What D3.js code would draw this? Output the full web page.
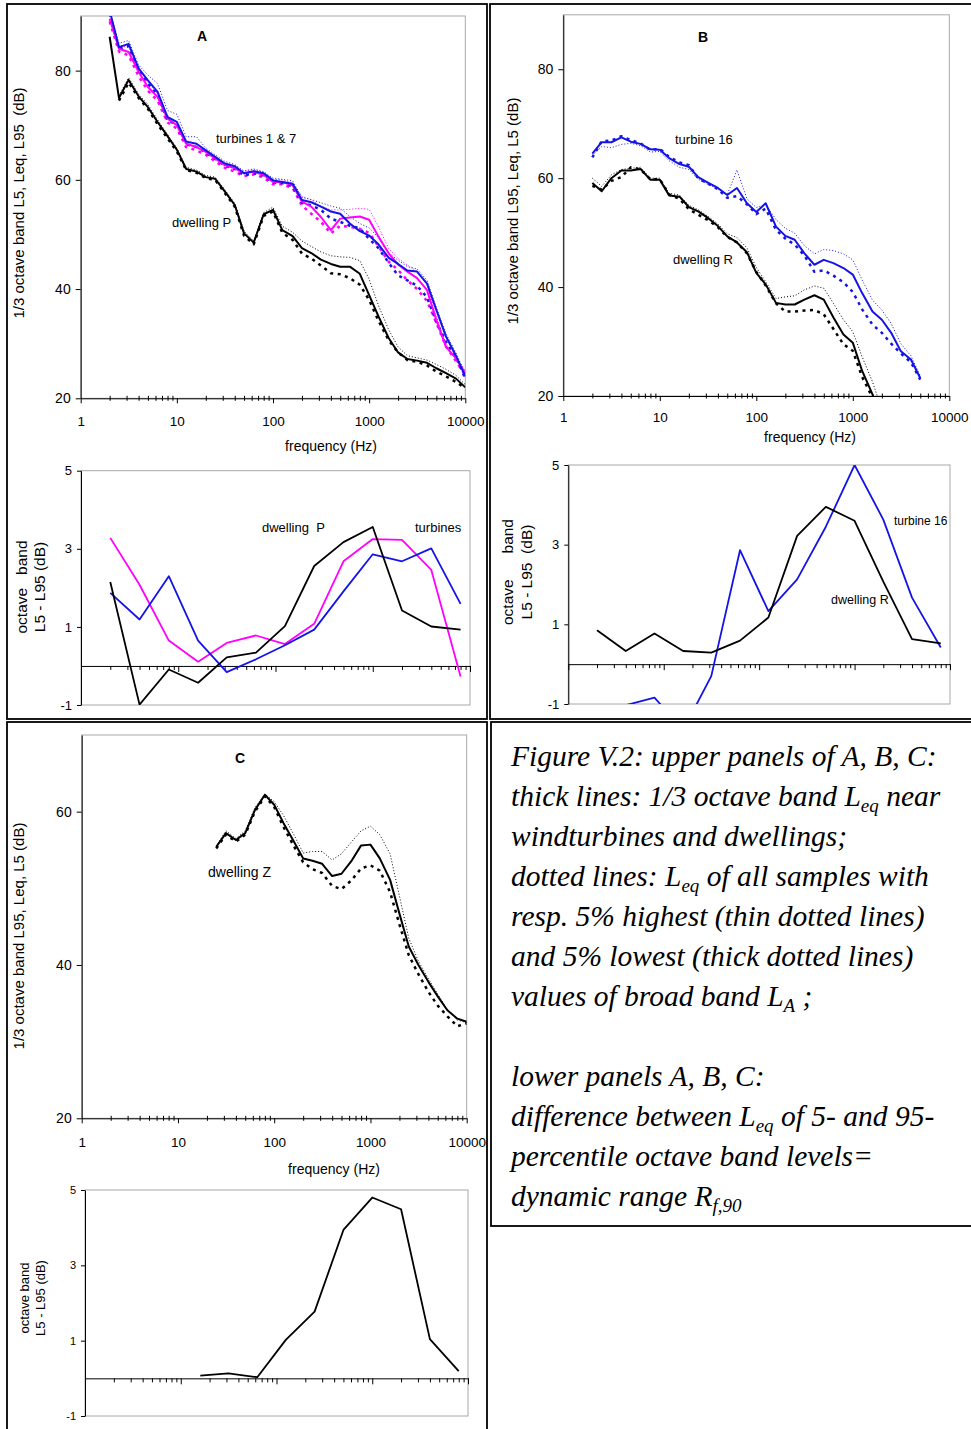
<!DOCTYPE html>
<html>
<head>
<meta charset="utf-8">
<script src="https://cdn.jsdelivr.net/npm/d3@7"></script>
<style>
  body { margin: 0; background: #fff; }
  svg text { font-family: "Liberation Sans", Arial, sans-serif; fill: #000; }
</style>
</head>
<body>
<div id="chart"></div>
<script>
// 1/3 octave band centre frequencies (Hz) and octave bands
const thirdOct = [2, 2.5, 3.15, 4, 5, 6.3, 8, 10, 12.5, 16, 20, 25, 31.5, 40, 50, 63, 80, 100, 125, 160,
    200, 250, 315, 400, 500, 630, 800, 1000, 1250, 1600, 2000, 2500, 3150, 4000, 5000, 6300, 8000, 10000]
const octBands = [2, 4, 8, 16, 31.5, 63, 125, 250, 500, 1000, 2000, 4000, 8000]
const decades = [1, 10, 100, 1000, 10000]

// panel A, upper: turbines 1 & 7 (blue, magenta), dwelling P (black)
const blackLeqA = [86.2, 75.0, 78.3, 75.3, 73.3, 70.6, 68.0, 65.5, 62.0, 61.5, 60.5, 60.2, 57.9, 55.4, 50.2, 48.5, 53.7, 54.5, 50.8, 49.7,
    47.5, 46.6, 45.4, 44.6, 44.1, 44.1, 42.8, 38.9, 35.0, 31.0, 28.4, 27.2, 26.9, 26.5, 25.5, 24.6, 23.6, 22.0]
const blackL5A = [86.4, 75.4, 78.7, 75.7, 73.8, 71.0, 68.3, 65.8, 62.3, 61.8, 60.8, 60.5, 58.2, 55.7, 50.6, 48.8, 54.0, 55.0, 51.5, 50.4,
    48.8, 47.8, 46.8, 46.1, 45.9, 45.8, 45.2, 41.8, 37.0, 32.5, 29.4, 27.8, 27.4, 27.0, 26.2, 25.3, 24.2, 22.5]
const blackL95A = [85.8, 74.5, 77.8, 75.0, 73.0, 70.2, 67.6, 65.2, 61.8, 61.3, 60.3, 60.0, 57.6, 55.1, 49.8, 48.2, 53.4, 54.2, 50.3, 49.0,
    46.5, 45.6, 44.3, 42.9, 42.7, 42.0, 40.8, 38.0, 34.2, 30.6, 28.4, 27.0, 26.7, 26.0, 24.9, 24.0, 23.0, 21.8]
const blueLeqA = [91.0, 84.3, 84.9, 80.4, 78.2, 76.1, 71.5, 70.6, 67.0, 66.6, 65.4, 64.2, 63.0, 62.5, 61.2, 61.6, 61.2, 59.9, 59.6, 59.3,
    56.3, 55.9, 55.1, 54.2, 53.8, 52.0, 50.6, 49.8, 48.2, 45.7, 44.6, 43.4, 43.2, 41.0, 36.2, 31.3, 27.8, 24.0]
const blueL5A = [91.0, 85.0, 85.5, 81.0, 79.2, 77.6, 72.7, 72.0, 67.9, 67.9, 65.8, 64.6, 63.4, 62.8, 61.6, 62.0, 61.5, 60.3, 60.1, 59.8,
    56.8, 56.4, 55.8, 55.2, 54.8, 53.3, 52.0, 51.2, 49.4, 46.6, 45.3, 44.1, 43.7, 41.6, 36.6, 31.8, 28.3, 24.4]
const blueL95A = [90.5, 84.0, 84.5, 80.0, 77.6, 75.5, 70.8, 70.2, 66.5, 66.0, 65.0, 63.8, 62.6, 62.0, 60.8, 61.2, 60.8, 59.5, 59.4, 58.8,
    55.8, 55.3, 54.5, 52.9, 52.3, 51.6, 51.1, 49.2, 47.5, 44.8, 42.5, 41.6, 40.6, 38.5, 34.0, 30.3, 27.5, 23.6]
const magLeqA = [89.5, 84.0, 83.4, 79.8, 77.0, 75.2, 71.2, 70.0, 66.6, 66.0, 65.1, 63.9, 62.7, 62.1, 61.2, 61.5, 60.9, 59.6, 59.6, 59.0,
    56.0, 55.1, 53.2, 50.8, 52.9, 53.1, 53.3, 52.7, 49.6, 46.5, 44.5, 43.2, 42.0, 39.8, 34.3, 29.4, 27.3, 24.6]
const magL5A = [90.0, 84.6, 84.2, 80.6, 77.8, 75.8, 71.8, 70.6, 67.2, 66.6, 65.5, 64.3, 63.1, 62.5, 61.6, 61.9, 61.3, 60.1, 60.0, 59.4,
    57.0, 56.3, 55.2, 54.5, 54.5, 54.6, 54.8, 54.6, 51.4, 47.4, 45.6, 44.4, 43.2, 40.8, 35.0, 30.0, 27.7, 25.0]
const magL95A = [89.0, 83.5, 82.8, 79.0, 76.3, 74.5, 70.5, 69.4, 66.0, 65.4, 64.6, 63.4, 62.2, 61.5, 60.7, 61.0, 60.4, 59.2, 59.2, 58.5,
    55.3, 53.8, 52.3, 50.2, 51.6, 51.4, 51.0, 50.3, 47.8, 45.0, 43.5, 41.6, 40.0, 37.8, 33.8, 29.5, 26.8, 24.2]

// panel B, upper: turbine 16 (blue, 2..5000 Hz), dwelling R (black, 2..2000 Hz)
const blueLeqB = [64.5, 66.6, 66.6, 67.5, 66.7, 66.3, 65.3, 65.2, 63.7, 62.6, 62.1, 60.2, 59.2, 58.2, 56.9, 58.2, 55.4, 53.8,
    55.4, 51.1, 49.4, 48.7, 46.2, 44.1, 45.0, 44.4, 43.5, 42.3, 38.9, 35.5, 34.0, 31.6, 28.2, 26.7, 23.3]
const blueL5B = [64.2, 65.8, 65.6, 66.2, 66.4, 66.0, 64.8, 64.9, 63.2, 62.0, 61.6, 59.8, 58.9, 58.0, 57.0, 61.5, 56.2, 54.6,
    55.2, 52.4, 50.8, 49.9, 47.6, 46.1, 46.9, 46.7, 46.1, 45.0, 41.3, 37.6, 35.8, 33.3, 29.6, 27.4, 23.7]
const blueL95B = [63.8, 66.8, 66.9, 67.7, 67.0, 66.4, 65.2, 65.4, 63.9, 62.9, 62.4, 60.0, 59.0, 58.0, 56.4, 56.7, 55.2, 53.4,
    54.4, 50.5, 48.9, 47.8, 45.8, 42.8, 43.1, 42.1, 40.9, 39.1, 35.9, 33.1, 31.6, 29.6, 27.8, 26.2, 23.0]
const blackLeqB = [59.1, 57.6, 60.0, 61.4, 61.4, 61.7, 59.7, 59.7, 56.8, 56.6, 54.7, 53.9, 52.7, 51.2, 49.3, 48.2, 46.4, 42.6,
    40.5, 37.1, 36.8, 36.8, 37.7, 38.5, 37.7, 34.4, 31.3, 29.8, 24.6, 20.3, 15.5]
const blackL5B = [60.0, 58.5, 60.6, 61.6, 61.8, 62.0, 60.0, 60.0, 57.2, 56.9, 55.0, 54.2, 53.0, 51.6, 49.8, 49.1, 47.2, 43.6,
    41.0, 37.9, 38.2, 38.4, 39.5, 40.2, 39.8, 37.0, 34.0, 31.8, 27.2, 22.6, 17.5]
const blackL95B = [58.6, 57.9, 59.5, 60.2, 62.0, 61.6, 59.8, 59.8, 57.0, 56.2, 54.3, 53.3, 52.3, 51.0, 49.2, 48.2, 46.2, 42.8,
    40.3, 37.0, 35.5, 35.5, 35.7, 35.8, 35.0, 32.3, 29.5, 28.3, 23.5, 19.7, 15.0]

// panel C, upper: dwelling Z (25..10000 Hz)
const leqC = [55.4, 57.2, 56.3, 57.2, 60.2, 62.2, 60.9, 58.5, 56.1, 53.9, 53.6, 53.2, 51.6, 51.9, 53.5, 55.6, 55.7, 53.9,
    51.1, 46.7, 42.4, 40.0, 37.8, 35.9, 34.1, 33.0, 32.6]
const l5C = [55.5, 57.5, 56.5, 57.5, 60.5, 62.3, 61.3, 59.5, 57.0, 54.6, 54.8, 54.8, 53.7, 54.5, 56.0, 57.5, 58.1, 57.0,
    54.5, 49.0, 43.5, 40.5, 38.2, 36.2, 34.2, 32.8, 32.5]
const l95C = [55.2, 57.0, 56.1, 57.0, 60.0, 62.0, 60.6, 58.0, 55.5, 53.4, 52.5, 52.0, 50.3, 49.9, 51.0, 52.6, 53.0, 52.3,
    49.5, 45.3, 41.3, 38.8, 36.5, 34.7, 33.3, 32.0, 32.4]

// lower panels: octave band L5 - L95 (dB)
const rangeDwellP = [2.15, -0.99, -0.09, -0.43, 0.22, 0.34, 1.02, 2.56, 3.17, 3.56, 1.42, 1.01, 0.93]
const rangeTurbMag = [3.28, 2.08, 0.65, 0.11, 0.59, 0.78, 0.56, 1.08, 2.68, 3.25, 3.23, 2.46, -0.27]
const rangeTurbBlue = [1.87, 1.19, 2.30, 0.65, -0.16, 0.17, 0.53, 0.93, 1.91, 2.86, 2.68, 3.01, 1.59]
const rangeDwellR = [0.85, 0.33, 0.77, 0.33, 0.29, 0.59, 1.17, 3.22, 3.95, 3.60, 2.07, 0.63, 0.52]
const rangeTurb16 = [-1.2, -1.03, -0.84, -1.65, -0.30, 2.86, 1.33, 2.13, 3.45, 5.0, 3.63, 1.67, 0.42]
const octBandsC = [16, 31.5, 63, 125, 250, 500, 1000, 2000, 4000, 8000]
const rangeDwellZ = [0.07, 0.13, 0.03, 1.02, 1.77, 3.94, 4.80, 4.49, 1.04, 0.19]

const upperTicks = [20, 40, 60, 80]
const lowerTicks = [-1, 1, 3, 5]

const blue = "#1414e6", magenta = "#ff00ff", black = "#000"

let width = 971, height = 1429
let svg = d3.select("#chart").append("svg")
    .attr("width", width)
    .attr("height", height)

// outer frames of the figure
let frames = [
    {x: 7, y: 4, w: 480, h: 715},
    {x: 490, y: 4, w: 495, h: 715},
    {x: 7, y: 722, w: 480, h: 720},
    {x: 491, y: 722, w: 495, h: 504}
]
svg.selectAll(".frame").data(frames).enter().append("rect")
    .attr("class", "frame")
    .attr("x", d => d.x).attr("y", d => d.y)
    .attr("width", d => d.w).attr("height", d => d.h)
    .attr("fill", "none").attr("stroke", "#000").attr("stroke-width", 1.8)

const styles = {
    solid: {w: 2, dash: null},
    thin: {w: 1, dash: "1,2"},
    thick: {w: 2.5, dash: "3,4.5"},
    range: {w: 1.8, dash: null}
}

let clipN = 0

function plotLines(g, x, y, o, series) {
    let id = "clip" + (clipN++)
    svg.append("clipPath").attr("id", id)
        .append("rect").attr("x", o.l).attr("y", o.t).attr("width", o.r - o.l).attr("height", o.b - o.t)
    let line = d3.line().x(d => x(d[0])).y(d => y(d[1]))
    series.forEach(s => {
        g.append("path")
            .datum(d3.zip(s.f, s.v))
            .attr("clip-path", "url(#" + id + ")")
            .attr("d", line)
            .attr("fill", "none")
            .attr("stroke", s.color)
            .attr("stroke-width", styles[s.style].w)
            .attr("stroke-dasharray", styles[s.style].dash)
            .attr("stroke-linejoin", "round")
    })
}

function styleAxis(sel, size) {
    sel.attr("font-family", '"Liberation Sans", Arial, sans-serif').attr("font-size", size)
    sel.selectAll("line").attr("stroke", "#000")
    sel.select(".domain").attr("stroke", "#000")
}

function drawUpper(o, series) {
    let x = d3.scaleLog().domain([1, 10000]).range([o.l, o.r])
    let y = d3.scaleLinear().domain([20, o.yMax]).range([o.b, o.t])
    let g = svg.append("g")

    g.append("rect")
        .attr("x", o.l).attr("y", o.t).attr("width", o.r - o.l).attr("height", o.b - o.t)
        .attr("fill", "none").attr("stroke", "#a8a8a8")

    let minor = x.ticks().filter(v => !decades.includes(v))
    // minor ticks straddle the axis line
    g.append("g").attr("transform", "translate(0," + o.b + ")")
        .call(d3.axisBottom(x).tickValues(minor).tickSize(2.5).tickFormat(""))
        .call(s => s.select(".domain").remove())
        .call(s => styleAxis(s, 13.5))
    g.append("g").attr("transform", "translate(0," + o.b + ")")
        .call(d3.axisBottom(x).tickValues(minor).tickSize(-2.5).tickFormat(""))
        .call(s => s.select(".domain").remove())
        .call(s => styleAxis(s, 13.5))
    g.append("g").attr("transform", "translate(0," + o.b + ")")
        .call(d3.axisBottom(x).tickValues(decades).tickSize(5).tickSizeOuter(0)
            .tickPadding(o.pad).tickFormat(d3.format("d")))
        .call(s => styleAxis(s, 13.5))
    g.append("g").attr("transform", "translate(" + o.l + ",0)")
        .call(d3.axisLeft(y).tickValues(upperTicks.filter(v => v <= o.yMax)).tickSize(5).tickSizeOuter(0).tickPadding(5))
        .call(s => styleAxis(s, 14))

    g.append("text")
        .attr("x", o.xLabX).attr("y", o.xLabY)
        .attr("text-anchor", "middle").attr("font-size", 14)
        .text("frequency (Hz)")
    g.append("text")
        .attr("transform", "translate(" + o.yLabX + "," + o.yLabY + ") rotate(-90)")
        .attr("text-anchor", "middle").attr("dy", "0.35em").attr("font-size", 15)
        .style("white-space", "pre")
        .text(o.yLab)
    g.append("text")
        .attr("x", o.title[1]).attr("y", o.title[2])
        .attr("text-anchor", "middle").attr("font-size", 14).attr("font-weight", "bold")
        .text(o.title[0])
    o.notes.forEach(n => {
        g.append("text").attr("x", n[1]).attr("y", n[2]).attr("font-size", n[3])
            .style("white-space", "pre").text(n[0])
    })

    plotLines(g, x, y, o, series)
}

function drawLower(o, series) {
    let x = d3.scaleLog().domain([1, 10000]).range([o.l, o.r])
    let y = d3.scaleLinear().domain([-1, 5]).range([o.b, o.t])
    let g = svg.append("g")

    g.append("rect")
        .attr("x", o.l).attr("y", o.t).attr("width", o.r - o.l).attr("height", o.b - o.t)
        .attr("fill", "none").attr("stroke", "#a8a8a8")

    let minor = x.ticks().filter(v => !decades.includes(v))
    g.append("g").attr("transform", "translate(0," + y(0) + ")")
        .call(d3.axisBottom(x).tickValues(minor).tickSize(4).tickFormat(""))
        .call(s => s.select(".domain").remove())
        .call(s => styleAxis(s, 12))
    g.append("g").attr("transform", "translate(0," + y(0) + ")")
        .call(d3.axisBottom(x).tickValues(decades).tickSize(6).tickSizeOuter(0).tickFormat(""))
        .call(s => styleAxis(s, 12))
    g.append("g").attr("transform", "translate(" + o.l + ",0)")
        .call(d3.axisLeft(y).tickValues(lowerTicks).tickSize(4).tickSizeOuter(0).tickPadding(5)
            .tickFormat(d => String(d)))
        .call(s => styleAxis(s, o.tickFont))

    o.yLab.forEach((t, i) => {
        g.append("text")
            .attr("transform", "translate(" + o.yLabX[i] + "," + o.yLabY + ") rotate(-90)")
            .attr("text-anchor", "middle").attr("dy", "0.35em").attr("font-size", o.labFont)
            .style("white-space", "pre")
            .text(t)
    })
    o.notes.forEach(n => {
        g.append("text").attr("x", n[1]).attr("y", n[2]).attr("font-size", n[3])
            .style("white-space", "pre").text(n[0])
    })

    plotLines(g, x, y, o, series)
}

// ---- panel A ----
drawUpper({
    l: 80.7, r: 465.3, t: 16, b: 398.3, yMax: 90, pad: 13, xLabX: 331, xLabY: 451,
    yLab: "1/3 octave band L5, Leq, L95  (dB)", yLabX: 19, yLabY: 203,
    title: ["A", 202, 41],
    notes: [["turbines 1 & 7", 216, 143, 13], ["dwelling P", 172, 227, 13]]
}, [
    {f: thirdOct.slice(1), v: blackL5A.slice(1), color: black, style: "thin"},
    {f: thirdOct.slice(1), v: blackL95A.slice(1), color: black, style: "thick"},
    {f: thirdOct, v: magL5A, color: magenta, style: "thin"},
    {f: thirdOct, v: magL95A, color: magenta, style: "thick"},
    {f: thirdOct, v: blueL5A, color: blue, style: "thin"},
    {f: thirdOct, v: blueL95A, color: blue, style: "thick"},
    {f: thirdOct, v: blackLeqA, color: black, style: "solid"},
    {f: thirdOct, v: magLeqA, color: magenta, style: "solid"},
    {f: thirdOct, v: blueLeqA, color: blue, style: "solid"}
])

drawLower({
    l: 81, r: 470, t: 470.7, b: 705, tickFont: 13, labFont: 15.5,
    yLab: ["octave   band", "L5 - L95 (dB)"], yLabX: [22, 40], yLabY: 587,
    notes: [["dwelling  P", 262, 532, 13], ["turbines", 415, 532, 13]]
}, [
    {f: octBands, v: rangeTurbMag, color: magenta, style: "range"},
    {f: octBands, v: rangeTurbBlue, color: blue, style: "range"},
    {f: octBands, v: rangeDwellP, color: black, style: "range"}
])

// ---- panel B ----
const fB1 = thirdOct.filter(f => f <= 5000)
const fB2 = thirdOct.filter(f => f <= 2000)
drawUpper({
    l: 563.3, r: 949.3, t: 14.8, b: 396, yMax: 90, pad: 11, xLabX: 810, xLabY: 442,
    yLab: "1/3 octave band L95, Leq, L5 (dB)", yLabX: 513, yLabY: 211,
    title: ["B", 703, 42],
    notes: [["turbine 16", 675, 144, 13], ["dwelling R", 673, 264, 13]]
}, [
    {f: fB2, v: blackL5B, color: black, style: "thin"},
    {f: fB2, v: blackL95B, color: black, style: "thick"},
    {f: fB1, v: blueL5B, color: blue, style: "thin"},
    {f: fB1, v: blueL95B, color: blue, style: "thick"},
    {f: fB2, v: blackLeqB, color: black, style: "solid"},
    {f: fB1, v: blueLeqB, color: blue, style: "solid"}
])

drawLower({
    l: 568.3, r: 950, t: 465, b: 704, tickFont: 13, labFont: 15.5,
    yLab: ["octave      band", "L5 - L95  (dB)"], yLabX: [508, 527], yLabY: 572,
    notes: [["turbine 16", 894, 525, 12], ["dwelling R", 831, 604, 12.5]]
}, [
    {f: octBands, v: rangeTurb16, color: blue, style: "range"},
    {f: octBands, v: rangeDwellR, color: black, style: "range"}
])

// ---- panel C ----
const fC = thirdOct.filter(f => f >= 25)
drawUpper({
    l: 81.7, r: 466.7, t: 735, b: 1118.3, yMax: 70, pad: 14, xLabX: 334, xLabY: 1174,
    yLab: "1/3 octave band L95, Leq, L5 (dB)", yLabX: 19, yLabY: 936,
    title: ["C", 240, 763],
    notes: [["dwelling Z", 208, 877, 14]]
}, [
    {f: fC, v: l5C, color: black, style: "thin"},
    {f: fC, v: l95C, color: black, style: "thick"},
    {f: fC, v: leqC, color: black, style: "solid"}
])

drawLower({
    l: 85, r: 468, t: 1190, b: 1416, tickFont: 11, labFont: 13,
    yLab: ["octave band", "L5 - L95 (dB)"], yLabX: [24, 40], yLabY: 1298,
    notes: []
}, [
    {f: octBandsC, v: rangeDwellZ, color: black, style: "range"}
])

// ---- caption box ----
const caption = [
    [["Figure V.2: upper panels of A, B, C:"]],
    [["thick lines: 1/3 octave band L"], ["eq", 1], [" near"]],
    [["windturbines and dwellings;"]],
    [["dotted lines: L"], ["eq", 1], [" of all samples with"]],
    [["resp. 5% highest (thin dotted lines)"]],
    [["and 5% lowest (thick dotted lines)"]],
    [["values of broad band L"], ["A", 1], [" ;"]],
    [[""]],
    [["lower panels A, B, C:"]],
    [["difference between L"], ["eq", 1], [" of 5- and 95-"]],
    [["percentile octave band levels="]],
    [["dynamic range R"], ["f,90", 1]]
]
let cap = svg.append("g")
caption.forEach((parts, i) => {
    let t = cap.append("text")
        .attr("x", 511).attr("y", 766 + i * 40)
        .attr("font-size", 29.5)
        .attr("font-style", "italic")
        .style("font-family", '"Liberation Serif", "Times New Roman", serif')
        .style("white-space", "pre")
    parts.forEach((p, j) => {
        let sp = t.append("tspan").text(p[0])
        if (p[1]) {
            sp.attr("font-size", 19).attr("dy", 6)
        } else if (j > 0 && parts[j - 1][1]) {
            sp.attr("dy", -6)
        }
    })
})
</script>
</body>
</html>
